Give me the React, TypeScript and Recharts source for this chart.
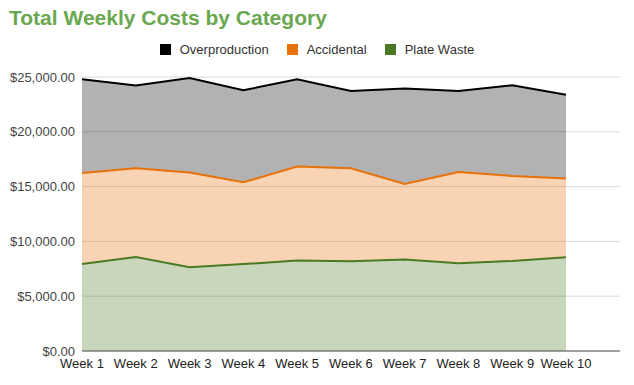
import React from "react";
import { AreaChart, Area, XAxis, YAxis, CartesianGrid } from "recharts";

const weeks = ["Week 1", "Week 2", "Week 3", "Week 4", "Week 5", "Week 6", "Week 7", "Week 8", "Week 9", "Week 10"];
const plateWaste = [7940, 8580, 7640, 7930, 8250, 8180, 8340, 8000, 8210, 8550];
const accidental = [8300, 8090, 8640, 7460, 8580, 8490, 6900, 8330, 7760, 7180];
const overproduction = [8550, 7550, 8630, 8400, 7960, 7050, 8700, 7390, 8270, 7660];
const yTicks = [0, 5000, 10000, 15000, 20000, 25000];

// stack order bottom -> top
const series = [
  { key: "plateWaste", name: "Plate Waste", color: "#4a7a22" },
  { key: "accidental", name: "Accidental", color: "#e8710a" },
  { key: "overproduction", name: "Overproduction", color: "#000000" },
];

const data = weeks.map((week, i) => ({
  week,
  plateWaste: plateWaste[i],
  accidental: accidental[i],
  overproduction: overproduction[i],
}));

const money = (v: number) =>
  "$" + v.toLocaleString("en-US", { minimumFractionDigits: 2, maximumFractionDigits: 2 });

const font = "'Liberation Sans', Arial, sans-serif";

export default function App() {
  return (
    <div style={{ position: "absolute", left: 0, top: 0, width: 634, height: 385, fontFamily: font }}>
      <div
        style={{
          position: "absolute",
          left: 9,
          top: 6,
          fontSize: 21,
          fontWeight: "bold",
          color: "#6aa84f",
        }}
      >
        Total Weekly Costs by Category
      </div>
      <div
        style={{
          position: "absolute",
          top: 42,
          left: 0,
          width: 634,
          display: "flex",
          justifyContent: "center",
          fontSize: 13,
          color: "#333",
        }}
      >
        {[...series].reverse().map((s) => (
          <div key={s.key} style={{ display: "flex", alignItems: "center", margin: "0 9px" }}>
            <span style={{ width: 11, height: 11, background: s.color, marginRight: 9, display: "inline-block" }} />
            {s.name}
          </div>
        ))}
      </div>
      <AreaChart width={634} height={385} data={data} margin={{ top: 77, right: 14, left: 0, bottom: 4 }}>
        <CartesianGrid vertical={false} stroke="#d9d9d9" />
        <XAxis
          dataKey="week"
          tickLine={false}
          axisLine={{ stroke: "#555" }}
          padding={{ left: 0, right: 54 }}
          interval={0}
          tick={{ fill: "#222", fontSize: 13, fontFamily: font }}
        />
        <YAxis
          width={82}
          domain={[0, 25000]}
          ticks={yTicks}
          tickLine={false}
          axisLine={false}
          tickSize={0}
          tickMargin={7}
          tickFormatter={money}
          tick={{ fill: "#444", fontSize: 13, fontFamily: font }}
        />
        {/* fills first */}
        {series.map((s) => (
          <Area
            key={s.key + "-fill"}
            type="linear"
            dataKey={s.key}
            name={s.name}
            stackId="fill"
            stroke="none"
            fill={s.color}
            fillOpacity={0.3}
            dot={false}
            activeDot={false}
            isAnimationActive={false}
          />
        ))}
        {/* lines on top */}
        {series.map((s) => (
          <Area
            key={s.key + "-line"}
            type="linear"
            dataKey={s.key}
            name={s.name}
            stackId="line"
            stroke={s.color}
            strokeWidth={2}
            fill="none"
            dot={false}
            activeDot={false}
            isAnimationActive={false}
          />
        ))}
      </AreaChart>
    </div>
  );
}
